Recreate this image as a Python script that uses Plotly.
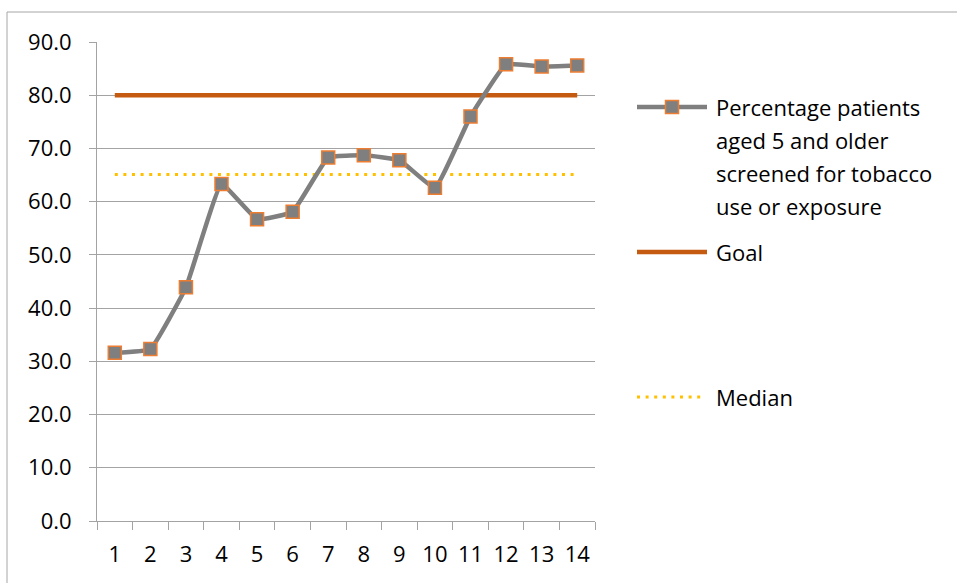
import plotly.graph_objects as go

# ---- data ----
periods = ["1", "2", "3", "4", "5", "6", "7", "8", "9", "10", "11", "12", "13", "14"]
pct_screened = [31.6, 32.3, 43.9, 63.3, 56.7, 58.1, 68.3, 68.7, 67.8, 62.6, 76.0, 85.8, 85.4, 85.6]
goal = [80.0, 80.0, 80.0, 80.0, 80.0, 80.0, 80.0, 80.0, 80.0, 80.0, 80.0, 80.0, 80.0, 80.0]
median = [65.1, 65.1, 65.1, 65.1, 65.1, 65.1, 65.1, 65.1, 65.1, 65.1, 65.1, 65.1, 65.1, 65.1]
y_ticks = [0, 10, 20, 30, 40, 50, 60, 70, 80, 90]
y_tick_labels = ["0.0", "10.0", "20.0", "30.0", "40.0", "50.0", "60.0", "70.0", "80.0", "90.0"]
legend_lines_1 = ["Percentage patients", "aged 5 and older", "screened for tobacco", "use or exposure"]
name_1 = " ".join(legend_lines_1)
name_2 = "Goal"
name_3 = "Median"

# ---- styles ----
W, H = 957, 583
L, R, T, B = 97, 362, 42, 62
PW, PH = W - L - R, H - T - B
FONT = "Open Sans, Lato, sans-serif"
FS = 22
GREY = "#7f7f7f"
ORANGE_EDGE = "#ed7d31"
GOAL_C = "#c55a11"
MED_C = "#ffc000"
GRID_C = "#a3a3a3"


def px(x):
    return (x - L) / PW


def py(y):
    return (H - B - y) / PH


fig = go.Figure()
fig.add_trace(go.Scatter(
    x=periods, y=median, name=name_3, mode="lines",
    line=dict(color=MED_C, width=3, dash="3px,5.6px"), showlegend=False))
fig.add_trace(go.Scatter(
    x=periods, y=goal, name=name_2, mode="lines",
    line=dict(color=GOAL_C, width=4.5), showlegend=False))
fig.add_trace(go.Scatter(
    x=periods, y=pct_screened, name=name_1, mode="lines+markers",
    line=dict(color=GREY, width=4.5, shape="spline", smoothing=0.3),
    marker=dict(symbol="square", size=13, color=GREY,
                line=dict(color=ORANGE_EDGE, width=1.5)),
    showlegend=False))

shapes = []
annotations = []
# outer chart border
shapes.append(dict(type="rect", xref="paper", yref="paper",
                   x0=px(7), x1=px(W + 5), y0=py(12), y1=py(H + 5),
                   line=dict(color="#a6a6a6", width=1), layer="below"))

# custom legend
lx0, lx1, tx = 637, 707, 714
ly1, ly2, ly3 = 107, 252, 397
shapes.append(dict(type="line", xref="paper", yref="paper",
                   x0=px(lx0), x1=px(lx1), y0=py(ly1), y1=py(ly1),
                   line=dict(color=GREY, width=4.5)))
shapes.append(dict(type="rect", xref="paper", yref="paper",
                   x0=px(672 - 6.5), x1=px(672 + 6.5), y0=py(ly1 - 6.5), y1=py(ly1 + 6.5),
                   fillcolor=GREY, line=dict(color=ORANGE_EDGE, width=1.5)))
shapes.append(dict(type="line", xref="paper", yref="paper",
                   x0=px(lx0), x1=px(lx1), y0=py(ly2), y1=py(ly2),
                   line=dict(color=GOAL_C, width=4.5)))
shapes.append(dict(type="line", xref="paper", yref="paper",
                   x0=px(lx0), x1=px(lx1 - 6), y0=py(ly3), y1=py(ly3),
                   line=dict(color=MED_C, width=3, dash="3px,5.6px")))

for i, t in enumerate(legend_lines_1):
    annotations.append(dict(text=t, xref="paper", yref="paper",
                            x=px(tx), y=py(ly1 + 33 * i), xanchor="left", yanchor="middle",
                            showarrow=False, font=dict(family=FONT, size=FS, color="#000")))
annotations.append(dict(text=name_2, xref="paper", yref="paper",
                        x=px(tx), y=py(ly2), xanchor="left", yanchor="middle",
                        showarrow=False, font=dict(family=FONT, size=FS, color="#000")))
annotations.append(dict(text=name_3, xref="paper", yref="paper",
                        x=px(tx), y=py(ly3), xanchor="left", yanchor="middle",
                        showarrow=False, font=dict(family=FONT, size=FS, color="#000")))

fig.update_layout(
    width=W, height=H,
    margin=dict(l=L, r=R, t=T, b=B, pad=0),
    paper_bgcolor="white", plot_bgcolor="white",
    font=dict(family=FONT, size=FS, color="#000"),
    showlegend=False,
    shapes=shapes, annotations=annotations,
    xaxis=dict(type="category", categoryorder="array", categoryarray=periods,
               range=[-0.5, len(periods) - 0.5], autorange=False,
               tickson="boundaries", ticks="outside", ticklen=8, tickcolor=GRID_C,
               showline=True, linecolor=GRID_C, linewidth=1,
               showgrid=False, zeroline=False, ticklabelstandoff=14,
               tickfont=dict(family=FONT, size=FS, color="#000")),
    yaxis=dict(range=[0, 90], tickvals=y_ticks, ticktext=y_tick_labels,
               ticks="outside", ticklen=7, tickcolor=GRID_C,
               showline=True, linecolor=GRID_C, linewidth=1,
               showgrid=True, gridcolor=GRID_C, gridwidth=1, zeroline=False,
               ticklabelstandoff=13,
               tickfont=dict(family=FONT, size=FS, color="#000")),
)

fig.write_html("out.html")
